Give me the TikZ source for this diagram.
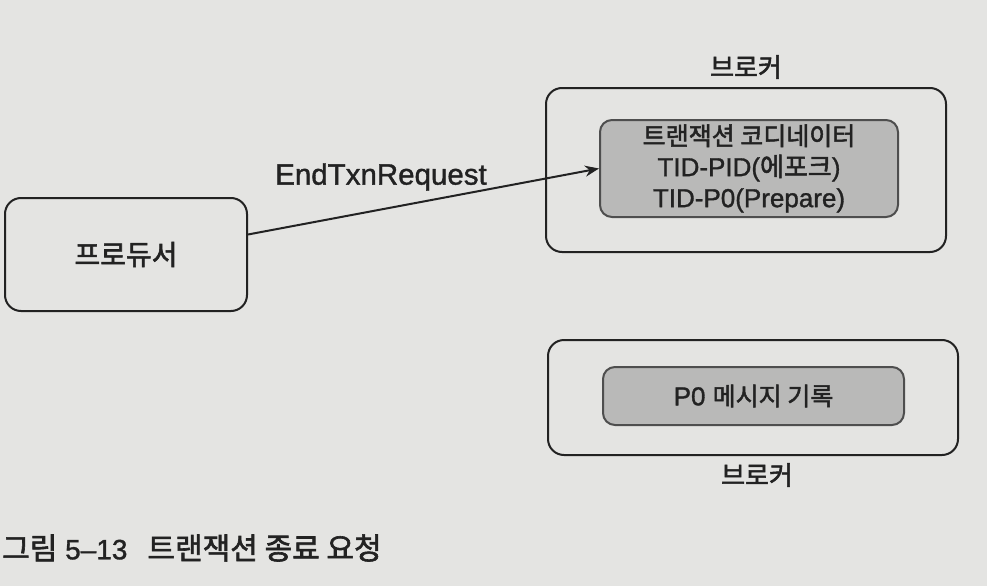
\documentclass[tikz,border=0pt]{standalone}
\usepackage{fontspec}
\setmainfont{Liberation Sans}[FakeBold=1.2]
\newfontfamily\kr{Noto Sans CJK KR}[FakeBold=2]
\newcommand{\ko}[1]{{\kr #1}}
\usetikzlibrary{arrows.meta}
\definecolor{paper}{HTML}{E4E4E2}
\definecolor{inner}{HTML}{B9B9B8}
\definecolor{ink}{HTML}{222222}
\begin{document}
\begin{tikzpicture}[x=1pt,y=-1pt,
  every node/.style={text=ink},
  outerbox/.style={draw=ink, line width=2pt, rounded corners=16pt, inner sep=0pt},
  innerbox/.style={draw=ink!80, fill=inner, line width=2pt, rounded corners=12pt, inner sep=0pt, align=center, font=\fontsize{26}{31}\selectfont},
  lbl/.style={inner sep=0pt, font=\fontsize{26}{30}\selectfont}
]
\fill[paper] (0,0) rectangle (987,586);
\useasboundingbox (0,0) rectangle (987,586);

\node[outerbox, minimum width=242pt, minimum height=113pt, font=\fontsize{28}{32}\selectfont] (prod) at (126,254.5) {\ko{프로듀서}};

\node[outerbox, minimum width=400pt, minimum height=164pt] (b1) at (746,170) {};
\node[innerbox, minimum width=298pt, minimum height=97pt] (coord) at (749,168.5)
  {{\fontsize{25}{31}\selectfont\ko{트랜잭션 코디네이터}}\\TID-PID(\ko{에포크})\\TID-P0(Prepare)};
\node[lbl] (b1lbl) at (746,67) {\ko{브로커}};

\node[outerbox, minimum width=410pt, minimum height=115pt] (b2) at (753,397.5) {};
\node[innerbox, minimum width=301pt, minimum height=58pt] (wr) at (753.5,396) {P0 \ko{\fontsize{25}{31}\selectfont 메시지 기록}};
\node[lbl] (b2lbl) at (757,475) {\ko{브로커}};

\draw[line width=2pt, draw=ink, -{Stealth[length=14pt,width=11pt]}] ([yshift=20pt]prod.east) -- (coord.west);
\node[lbl, font=\fontsize{29.5}{34}\selectfont] (req) at (381,177) {EndTxnRequest};

\node[anchor=west, inner sep=0pt, font=\fontsize{28}{32}\selectfont] (cap) at (2,548) {\ko{\fontsize{30}{32}\selectfont 그림} 5–13\hspace{20pt}\ko{\fontsize{30}{32}\selectfont 트랜잭션 종료 요청}};
\end{tikzpicture}
\end{document}
